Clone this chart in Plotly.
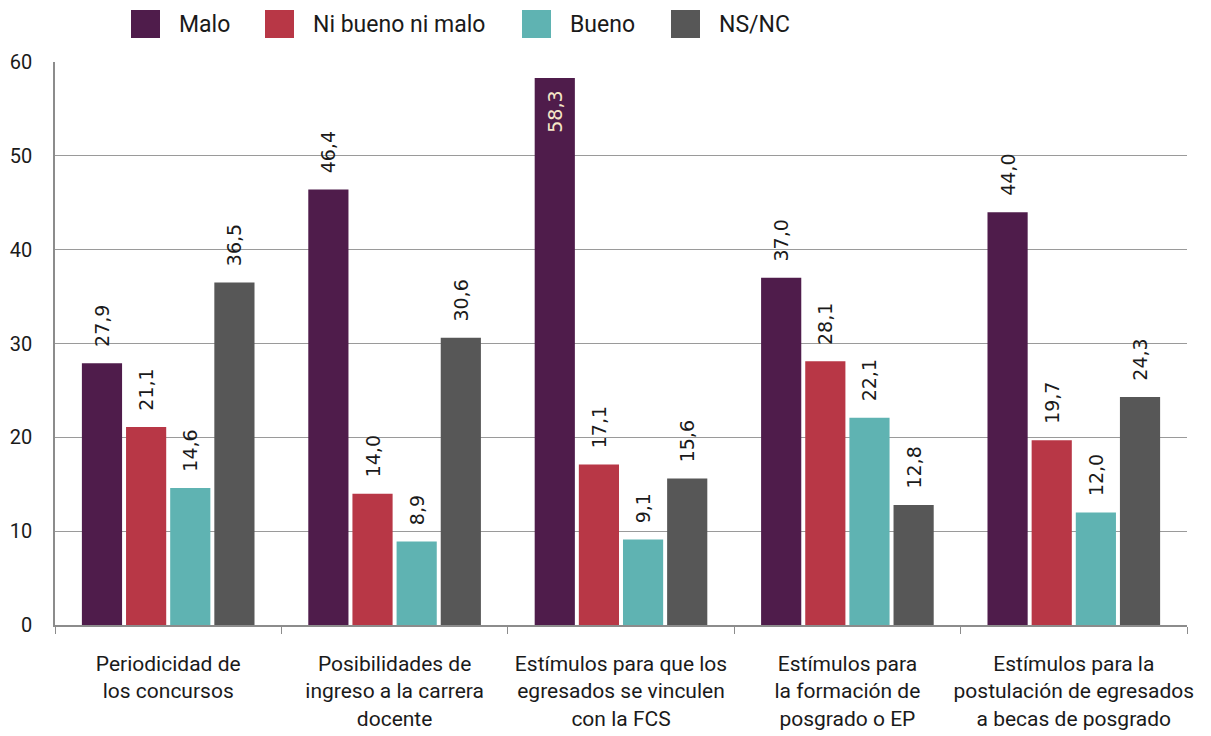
import plotly.graph_objects as go

categories = [
    "Periodicidad de<br>los concursos",
    "Posibilidades de<br>ingreso a la carrera<br>docente",
    "Estímulos para que los<br>egresados se vinculen<br>con la FCS",
    "Estímulos para<br>la formación de<br>posgrado o EP",
    "Estímulos para la<br>postulación de egresados<br>a becas de posgrado",
]
series_names = ["Malo", "Ni bueno ni malo", "Bueno", "NS/NC"]
malo = [27.9, 46.4, 58.3, 37.0, 44.0]
ni_bueno_ni_malo = [21.1, 14.0, 17.1, 28.1, 19.7]
bueno = [14.6, 8.9, 9.1, 22.1, 12.0]
ns_nc = [36.5, 30.6, 15.6, 12.8, 24.3]
colors = ["#4f1c4b", "#b83746", "#5fb3b2", "#575757"]
y_ticks = [0, 10, 20, 30, 40, 50, 60]

values = [malo, ni_bueno_ni_malo, bueno, ns_nc]
Y_MAX = 60
PAD = "\u2002\u2009"  # small lift of outside labels above the bar ends

fig = go.Figure()
for name, vals, col in zip(series_names, values, colors):
    inside = [v > Y_MAX - 4 for v in vals]
    labels = [
        f"{v:.1f}".replace(".", ",") + ("\u2002" if ins else "") if ins
        else PAD + f"{v:.1f}".replace(".", ",")
        for v, ins in zip(vals, inside)
    ]
    # bars reaching the top of the axis carry their label inside
    positions = ["inside" if ins else "outside" for ins in inside]
    fig.add_trace(go.Bar(
        name=name,
        x=categories,
        y=vals,
        marker=dict(color=col, line=dict(width=0)),
        text=labels,
        textposition=positions,
        textangle=-90,
        insidetextanchor="end",
        textfont=dict(family="DejaVu Sans", size=19),
        insidetextfont=dict(family="DejaVu Sans", size=19, color="#f6e7c8"),
        outsidetextfont=dict(family="DejaVu Sans", size=19, color="#1a1a1a"),
        constraintext="none",
        cliponaxis=False,
        showlegend=False,
    ))

# Legend: coloured squares with names along the top
L, R, T, B = 55, 1187, 62, 625
W, H = R - L, B - T
legend_x = [131, 265, 522, 671]
for name, col, px in zip(series_names, colors, legend_x):
    x0 = (px - L) / W
    x1 = (px + 29 - L) / W
    fig.add_shape(type="rect", xref="paper", yref="paper",
                  x0=x0, x1=x1, y0=(B - 38) / H, y1=(B - 10) / H,
                  fillcolor=col, line=dict(width=0), layer="above")
    fig.add_annotation(xref="paper", yref="paper",
                       x=(px + 46 - L) / W, y=(B - 25) / H,
                       xanchor="left", yanchor="middle", showarrow=False,
                       text=name, font=dict(family="Roboto", size=23, color="#1a1a1a"))

fig.update_layout(
    width=1211, height=736,
    margin=dict(l=L, r=1211 - R, t=T, b=736 - B, autoexpand=False),
    paper_bgcolor="white", plot_bgcolor="white",
    barmode="group",
    bargap=0.22,
    bargroupgap=0.09,
    font=dict(family="Roboto", color="#1a1a1a"),
    xaxis=dict(
        type="category",
        showline=True, linecolor="#8c8c8c", linewidth=1.5,
        tickson="boundaries", ticks="outside", ticklen=7, tickcolor="#8c8c8c",
        tickangle=0,
        tickfont=dict(family="Roboto", size=21, color="#1a1a1a"),
        ticklabelstandoff=19,
        showgrid=False,
    ),
    yaxis=dict(
        range=[0, Y_MAX],
        tickvals=y_ticks,
        showline=True, linecolor="#8c8c8c", linewidth=1.5,
        showgrid=True, gridcolor="#9a9a9a", gridwidth=1,
        zeroline=False,
        tickfont=dict(family="Roboto", size=20, color="#1a1a1a"),
        ticklabelstandoff=17,
    ),
)

fig.write_html("out.html")
